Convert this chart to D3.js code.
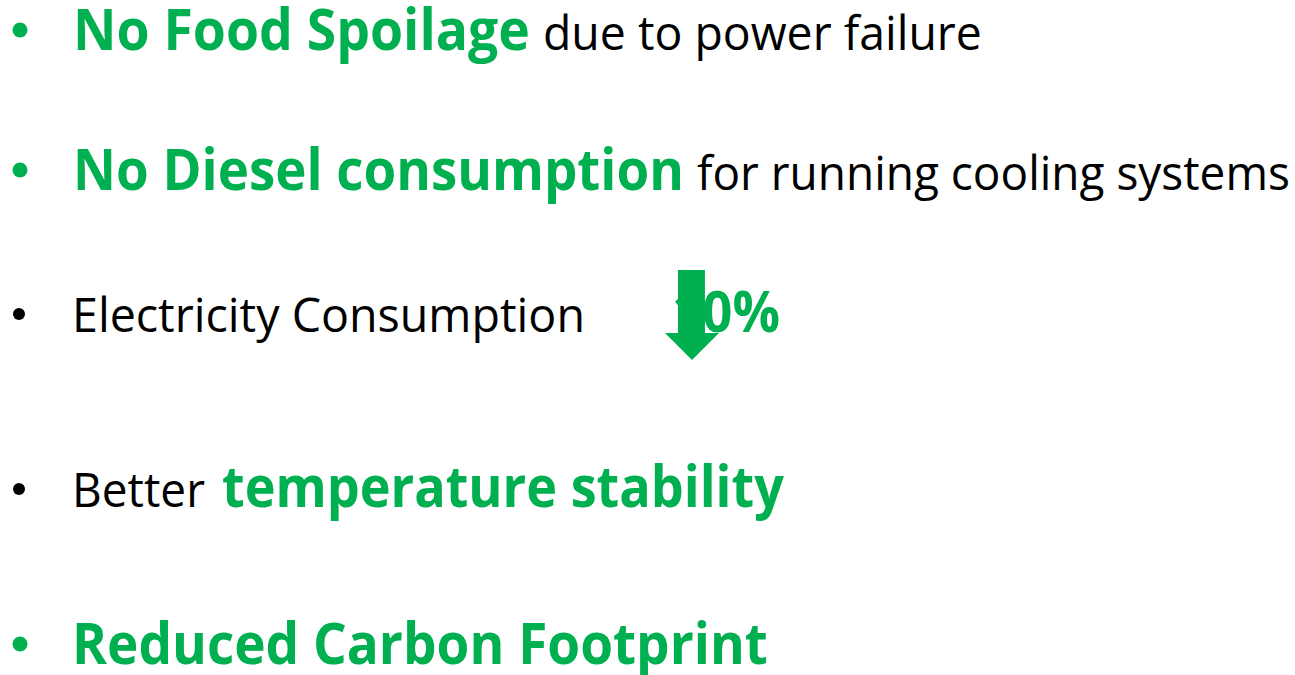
<!DOCTYPE html>
<html>
<head>
<meta charset="utf-8" />
<title>Benefits</title>
<script src="https://d3js.org/d3.v7.min.js"></script>
<style>
  html, body { margin: 0; padding: 0; background: #ffffff; }
  svg { display: block; }
</style>
</head>
<body>
<svg id="viz"></svg>
<script>

// slide content: one array per bullet line, each a list of [text, emphasis]
var line1 = [["No Food Spoilage", 1], ["due to power failure", 0]];
var line2 = [["No Diesel consumption", 1], ["for running cooling systems", 0]];
var line3 = [["Electricity Consumption", 0], ["10%", 1]];
var line4 = [["Better", 0], ["temperature stability", 1]];
var line5 = [["Reduced Carbon Footprint", 1]];
var lines = [line1, line2, line3, line4, line5];

// bullet colour follows the first segment of each line
var bulletGreen = [true, true, false, false, true];

// layout (baseline y, and [x0,x1] for every segment)
var baselines = [50, 190, 332, 507, 664];
var spans = [
  [[73, 530], [543, 982]],
  [[73, 684], [697, 1290]],
  [[72, 585], [672, 780]],
  [[72, 205], [222, 784]],
  [[72, 768]]
];

var width = 1295, height = 675;
var green = "#00b050";
var font = "'Open Sans', 'Noto Sans', sans-serif";

var svg = d3.select("#viz")
  .attr("width", width)
  .attr("height", height);

// bullets
svg.selectAll("circle.bullet")
  .data(lines)
  .enter().append("circle")
    .attr("class", "bullet")
    .attr("cx", function(d, i) { return bulletGreen[i] ? 20 : 19; })
    .attr("cy", function(d, i) { return baselines[i] - (bulletGreen[i] ? 20 : 18); })
    .attr("r", function(d, i) { return bulletGreen[i] ? 7.5 : 6; })
    .style("fill", function(d, i) { return bulletGreen[i] ? green : "#000"; });

// text segments
lines.forEach(function(segs, i) {
  var g = svg.selectAll("g.l" + i)
    .data(segs)
    .enter().append("g")
      .attr("class", "l" + i);

  var t = g.append("text")
      .attr("x", 0)
      .attr("y", 0)
      .style("font-family", font)
      .style("font-weight", function(d) { return d[1] ? 700 : 400; })
      .style("font-size", function(d) { return (d[1] ? 57 : 48) + "px"; })
      .style("fill", function(d) { return d[1] ? green : "#000"; })
      .text(function(d) { return d[0]; });

  // Open Sans is wider than the slide's Calibri: shrink the size to the
  // slide width, then stretch back up so the letter height still matches
  t.each(function(d, j) {
    var base = d[1] ? 57 : 48;
    var target = spans[i][j][1] - spans[i][j][0];
    var natural = this.getComputedTextLength();
    var size = base * target / natural;
    d3.select(this).style("font-size", size + "px");
    d3.select(this.parentNode)
      .attr("transform", "translate(" + spans[i][j][0] + "," + baselines[i] + ") scale(1," + (base / size) + ")");
  });
});

// down arrow laid over the "10%"
var ax = d3.scaleLinear().domain([0, 1]).range([665, 719]);
var ay = d3.scaleLinear().domain([0, 1]).range([270, 360]);
var arrow = [[0.24, 0], [0.74, 0], [0.74, 0.7], [1, 0.7], [0.5, 1], [0, 0.7], [0.24, 0.7]];
svg.append("path")
  .attr("d", d3.line().x(function(p) { return ax(p[0]); }).y(function(p) { return ay(p[1]); })(arrow) + "Z")
  .style("fill", green);

</script>
</body>
</html>
